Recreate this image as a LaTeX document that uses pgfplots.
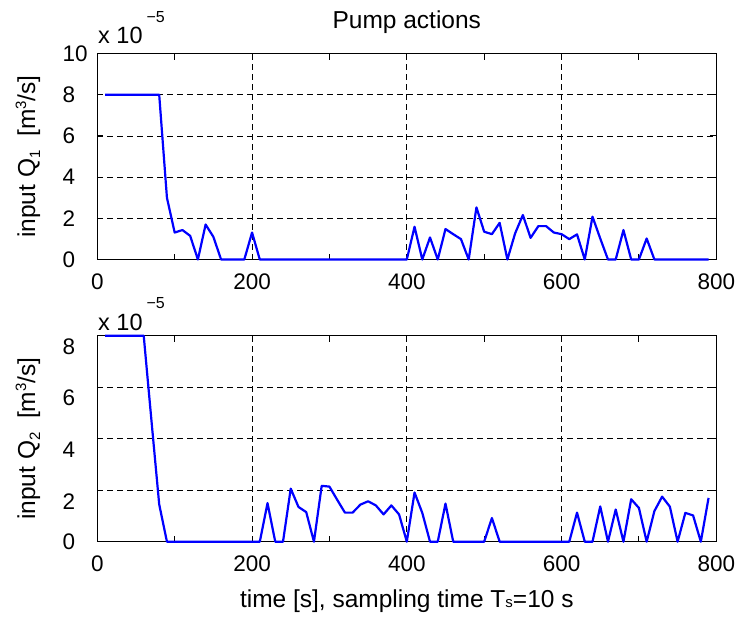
\documentclass[border=0pt]{standalone}
\usepackage{fontspec}
\setmainfont{Liberation Sans}
\usepackage{pgfplots}
\pgfplotsset{compat=1.18}
\newcommand{\tk}{\fontsize{22.5}{26}\selectfont}
\newcommand{\lb}{\fontsize{24.5}{28}\selectfont}
\newcommand{\sm}{\fontsize{15}{15}\selectfont}
\pgfplotsset{
  pumpstyle/.style={
    scale only axis, width=619pt, height=206pt,
    xmin=0, xmax=800,
    xtick={0,200,400,600,800},
    minor xtick={100,300,500,700},
    xmajorgrids, ymajorgrids,
    major grid style={black, line width=0.8pt, dash pattern=on 6pt off 4pt},
    major tick length=6pt, minor tick length=6pt,
    tick style={black, line width=0.9pt},
    axis line style={line width=1.3pt},
    /pgf/number format/assume math mode=true,
    scaled ticks=false,
    tick label style={font=\tk},
    xticklabel style={anchor=north, inner sep=0pt, yshift=-14pt},
    yticklabel style={anchor=west, inner sep=0pt, xshift=-35pt},
    ylabel style={at={(axis description cs:-0.1006,0.5)}, anchor=base, inner sep=0pt, font=\lb},
    clip=false,
  },
  qline/.style={blue, line width=2.2pt, line join=round, mark=none},
}
\begin{document}
\begin{tikzpicture}
\useasboundingbox (0pt,0pt) rectangle (741pt,-619pt);
\begin{axis}[pumpstyle, at={(97.3pt,-53.5pt)}, anchor=north west,
  ymin=0, ymax=10, ytick={0,2,4,6,8,10},
  title={Pump actions},
  title style={at={(0.5,1)}, anchor=base, yshift=19.5pt, inner sep=0pt, font=\lb},
  ylabel={input Q\raisebox{-5pt}{\sm 1}\ \ [m\raisebox{9pt}{\sm 3}/s]},
]
\addplot[qline] coordinates {
(10,8) (20,8) (30,8) (40,8) (50,8) (60,8) (70,8) (80,8)
(90,3.0) (100,1.31) (110,1.43) (120,1.15) (130,0) (140,1.70) (150,1.10)
(160,0) (170,0) (180,0) (190,0) (200,1.31) (210,0) (220,0) (230,0) (240,0)
(250,0) (260,0) (270,0) (280,0) (290,0) (300,0) (310,0) (320,0) (330,0)
(340,0) (350,0) (360,0) (370,0) (380,0) (390,0) (400,0) (410,1.59) (420,0)
(430,1.07) (440,0) (450,1.48) (460,1.23) (470,0.99) (480,0) (490,2.53)
(500,1.35) (510,1.23) (520,1.78) (530,0) (540,1.27) (550,2.16) (560,1.05)
(570,1.62) (580,1.62) (590,1.31) (600,1.23) (610,0.99) (620,1.22) (630,0)
(640,2.08) (650,1.02) (660,0) (670,0) (680,1.43) (690,0) (700,0) (710,1.02)
(720,0) (730,0) (740,0) (750,0) (760,0) (770,0) (780,0) (790,0)
};
\node[anchor=base west, inner sep=0pt, yshift=10.5pt, xshift=0.7pt] at (rel axis cs:0,1)
  {\fontsize{23.5}{26}\selectfont x 10\hspace{4pt}\raisebox{21pt}{\fontsize{16}{16}\selectfont −5}};
\end{axis}
\begin{axis}[pumpstyle, at={(97.3pt,-335.7pt)}, anchor=north west,
  ymin=0, ymax=8, ytick={2,4,6,8},
  yticklabel style={yshift=-11pt},
  extra y ticks={0},
  extra y tick style={grid=none, yticklabel style={yshift=11pt}},
  ylabel={input Q\raisebox{-5pt}{\sm 2}\ \ [m\raisebox{9pt}{\sm 3}/s]},
  xlabel={time [s], sampling time T{\sm s}=10 s},
  xlabel style={at={(axis description cs:0.5,0)}, anchor=base, yshift=-66pt, inner sep=0pt, font=\lb},
]
\addplot[qline] coordinates {
(10,8) (20,8) (30,8) (40,8) (50,8) (60,8) (70,4.7) (80,1.45) (90,0)
(100,0) (110,0) (120,0) (130,0) (140,0) (150,0) (160,0) (170,0) (180,0)
(190,0) (200,0) (210,0) (220,1.50) (230,0) (240,0) (250,2.06) (260,1.35)
(270,1.15) (280,0) (290,2.17) (300,2.14) (310,1.63) (320,1.13) (330,1.13)
(340,1.44) (350,1.57) (360,1.41) (370,1.06) (380,1.41) (390,1.06) (400,0)
(410,1.91) (420,1.12) (430,0) (440,0) (450,1.48) (460,0) (470,0) (480,0)
(490,0) (500,0) (510,0.92) (520,0) (530,0) (540,0) (550,0) (560,0) (570,0)
(580,0) (590,0) (600,0) (610,0) (620,1.13) (630,0) (640,0) (650,1.37)
(660,0) (670,1.25) (680,0) (690,1.65) (700,1.31) (710,0) (720,1.19)
(730,1.75) (740,1.36) (750,0) (760,1.12) (770,1.02) (780,0) (790,1.70)
};
\node[anchor=base west, inner sep=0pt, yshift=5.7pt, xshift=0.7pt] at (rel axis cs:0,1)
  {\fontsize{23.5}{26}\selectfont x 10\hspace{4pt}\raisebox{22pt}{\fontsize{16}{16}\selectfont −5}};
\end{axis}
\end{tikzpicture}
\end{document}
